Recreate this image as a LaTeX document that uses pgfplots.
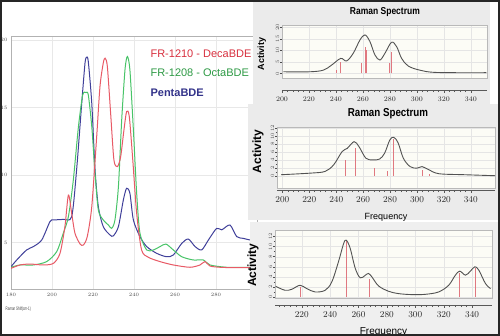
\documentclass[border=0pt]{standalone}
\usepackage{fontspec}
\setmainfont{Liberation Sans}
\newfontfamily\cond[FakeStretch=0.6]{Liberation Sans}
\newfontfamily\condt[FakeStretch=0.85]{Liberation Sans}
\usepackage{pgfplots}
\pgfplotsset{compat=1.18}
\definecolor{deca}{HTML}{E85A66}
\definecolor{octa}{HTML}{48C468}
\definecolor{penta}{HTML}{40409A}
\definecolor{decat}{HTML}{D8303F}
\definecolor{octat}{HTML}{2E9A45}
\definecolor{pentat}{HTML}{33338A}
\definecolor{panelbg}{HTML}{EBEBEB}
\definecolor{plotbg}{HTML}{FCFCF6}
\definecolor{stick}{HTML}{E07880}
\pgfplotsset{
 every axis title shift=0pt,
 panel/.style={scale only axis, anchor=south west, axis background/.style={fill=plotbg},
   axis line style={gray!55, line width=0.5pt}, grid=major, major grid style={gray!20, line width=0.3pt},
   xtick={200,220,...,340}, xticklabels={}, xtick style={draw=none}, ytick pos=left, ytick align=outside,
   major tick length=2pt, minor tick length=1.2pt, tick style={gray!60!black, line width=0.4pt},
   yticklabel style={rotate=90, anchor=south, font=\cond\fontsize{4}{4}\selectfont, text=gray!60!black, inner sep=0.8pt},
   clip=true},
 rule/.style={scale only axis, anchor=south west, height=1pt, ymin=0, ymax=1, axis x line=bottom, axis y line=none,
   axis line style={-, gray!70!black, line width=0.5pt}, xtick={200,220,...,340}, minor x tick num=4,
   xtick align=outside, major tick length=3pt, minor tick length=2.2pt, tick style={gray!70!black, line width=0.4pt},
   xticklabel style={text=gray!30!black}},
 curve/.style={draw=black!68, line width=0.9pt, smooth, tension=0.55, no markers},
 sticks/.style={ycomb, draw=stick, line width=0.6pt, no markers},
}
\begin{document}
\begin{tikzpicture}
\useasboundingbox (0,0) rectangle (500pt,336pt);
\clip (0,0) rectangle (500pt,336pt);
\fill[white] (0,0) rectangle (500pt,336pt);
% ---------------- left chart ----------------
\begin{axis}[at={(11pt,46.7pt)}, anchor=south west, scale only axis, width=246pt, height=253.3pt,
  xmin=180, xmax=300, ymin=1.55, ymax=20.3, xtick={180,200,...,280}, ytick={5,10,15,20},
  grid=major, major grid style={gray!18, line width=0.4pt}, axis line style={gray!60, line width=0.6pt},
  tick style={draw=none}, tick label style={font=\cond\fontsize{4.5}{5}\selectfont, text=gray!60!black},
  xlabel={Raman Shift(cm-1)}, xlabel style={font=\cond\fontsize{5}{5}\selectfont, text=gray!50!black, at={(axis description cs:-0.036,-0.08)}, anchor=west},
  clip=true]
\addplot[draw=penta, line width=1pt, smooth, tension=0.45] coordinates {
(180,3.22) (182.8,3.72) (187.6,4.46) (190.9,4.71) (195.0,5.20) (199.0,6.56) (200.7,6.68) (205.5,6.73) (209.6,6.93)
(212.0,10.39) (214.5,15.32) (216.1,18.29) (216.9,18.73) (217.7,18.41) (219.4,15.32) (221.0,10.39) (222.6,7.67)
(225.0,6.19) (228.3,5.57) (229.9,5.50) (232.4,6.19) (234.8,8.16) (236.4,9.03) (238.0,8.66) (239.7,6.68) (242.9,5.45)
(246.2,4.71) (251.1,4.21) (255.9,3.96) (259.2,4.09) (263.3,4.95) (266.5,5.27) (269.8,4.71) (273.0,4.46) (276.3,5.20)
(280.3,6.06) (282.8,5.95) (286.8,6.31) (290.1,5.45) (293.3,5.32) (296.6,5.20) (300,5.15)};
\addplot[draw=octa, line width=1pt, smooth, tension=0.45] coordinates {
(180,3.18) (184.4,3.35) (190.9,3.35) (197.4,3.60) (202.3,4.34) (205.5,5.70) (208.0,6.93) (210.4,9.64) (212.9,13.60)
(215.0,15.94) (216.6,16.11) (217.7,15.94) (219.4,13.60) (221.0,10.14) (222.6,7.42) (225.0,6.68) (227.5,6.31)
(229.1,6.06) (230.7,6.68) (232.4,9.15) (234.0,14.09) (235.6,17.79) (236.75,18.78) (238.0,17.79) (239.7,13.35)
(241.3,8.66) (242.9,5.70) (246.2,4.46) (249.4,4.46) (252.7,4.71) (255.6,4.90) (259.2,4.46) (263.3,3.96) (268.9,3.72)
(273.8,3.72) (277.1,3.35) (285.2,3.18) (296.6,3.18) (300,3.18)};
\addplot[draw=deca, line width=1pt, smooth, tension=0.45] coordinates {
(180,3.10) (184.4,3.35) (189.3,3.42) (195.8,3.35) (200.7,3.47) (203.9,4.21) (206.3,6.19) (208.0,8.53) (209.6,7.17)
(211.2,5.70) (213.7,4.90) (215.3,4.83) (217.2,5.45) (219.4,7.67) (221.8,12.85) (223.4,16.56) (225.0,18.29)
(225.9,18.66) (227.0,18.04) (228.6,14.58) (230.2,11.13) (231.9,10.63) (233.5,11.37) (235.1,13.35) (236.4,14.71)
(237.7,14.34) (239.4,11.13) (241.3,7.17) (243.7,4.46) (247.0,3.92) (252.7,3.60) (259.2,3.35) (267.3,3.18)
(272.2,3.35) (274.6,3.60) (277.1,3.27) (282.0,3.18) (288.5,3.15) (296.6,3.15) (300,3.15)};
\node[anchor=west, text=decat, font=\fontsize{11}{11}\selectfont] at (axis description cs:0.553,0.929) {FR-1210 - DecaBDE};
\node[anchor=west, text=octat, font=\fontsize{11}{11}\selectfont] at (axis description cs:0.553,0.854) {FR-1208 - OctaBDE};
\node[anchor=west, text=pentat, font=\bfseries\fontsize{11}{11}\selectfont] at (axis description cs:0.553,0.775) {PentaBDE};
\end{axis}
% ---------------- panel backgrounds ----------------
\fill[panelbg] (253pt,232pt) rectangle (490pt,334pt);
\fill[panelbg] (248pt,116pt) rectangle (500pt,232pt);
\fill[panelbg!80!white] (250pt,0pt) rectangle (500pt,114pt);
% ---------------- panel 1 ----------------
\begin{axis}[panel, at={(282pt,258pt)}, width=205pt, height=53pt, xmin=200, xmax=352, ymin=-2, ymax=21,
  ytick={0,5,...,20},
  title={Raman Spectrum}, title style={font=\condt\bfseries\fontsize{10}{10}\selectfont, at={(axis description cs:0.502,1.245)}, anchor=center},
  ylabel={Activity}, ylabel style={font=\bfseries\fontsize{9}{9}\selectfont, at={(axis description cs:-0.098,0.45)}, anchor=center, rotate=0}]
\addplot[sticks] coordinates {(240,1.4) (243.5,5.1) (259,4.6) (261.5,11.6) (262.7,10.1) (279.5,4.3) (281.2,9.4)};
\addplot[curve] coordinates {(201,0.7) (220.7,0.7) (230.6,1.4) (236.8,3.6) (243.5,6.5) (247.9,5.4) (252.8,8.7)
(257.8,14.5) (261.5,16.7) (265.2,13.8) (268.9,8.0) (272.6,5.8) (276.3,8.7) (281.2,13.5) (285,11.6) (288.7,6.5)
(293.6,3.2) (302.2,1.4) (314.6,0.4) (351.6,0.3)};
\end{axis}
\begin{axis}[rule, at={(282pt,246pt)}, width=205pt, xmin=200, xmax=352,
  xticklabel style={font=\cond\fontsize{7}{7}\selectfont}]
\end{axis}
% ---------------- panel 2 ----------------
\begin{axis}[panel, at={(277pt,148pt)}, width=218pt, height=61pt, xmin=196, xmax=358, ymin=-3.1, ymax=12.3,
  ytick={0,2,...,12}, minor y tick num=1,
  title={Raman Spectrum}, title style={font=\condt\bfseries\fontsize{11.5}{11.5}\selectfont, at={(axis description cs:0.509,1.213)}, anchor=center},
  ylabel={Activity}, ylabel style={font=\bfseries\fontsize{12}{12}\selectfont, at={(axis description cs:-0.087,0.6)}, anchor=center, rotate=0}]
\addplot[sticks] coordinates {(247.0,4.0) (254.0,6.9) (268,1.9) (277.8,1.1) (282.3,9.2) (303.8,1.5) (308.9,0.5)};
\addplot[curve] coordinates {(199,0.25) (221.7,0.67) (231.8,1.1) (238.1,2.75) (244.4,6.1) (248.2,6.9) (253.3,8.6)
(257.0,7.3) (262.1,4.4) (267.2,4.0) (272.2,4.2) (276.0,5.7) (279.8,9.0) (282.8,9.7) (286.1,8.2) (289.9,4.4)
(294.9,2.3) (300,1.9) (303.8,2.3) (308.9,1.5) (316.4,0.5) (335.4,0.25) (358,0)};
\end{axis}
\begin{axis}[rule, at={(277pt,146pt)}, width=218pt, xmin=196, xmax=358,
  xticklabel style={font=\cond\fontsize{9}{9}\selectfont},
  xlabel={Frequency}, xlabel style={font=\fontsize{9}{9}\selectfont, at={(axis description cs:0.5,0)}, anchor=center, yshift=-27pt}]
\end{axis}
% ---------------- panel 3 ----------------
\begin{axis}[panel, at={(275pt,38pt)}, width=217pt, height=68pt, xmin=201.2, xmax=354, ymin=-0.2, ymax=13.3,
  ytick={0,2,...,12}, minor y tick num=1,
  ylabel={Activity}, ylabel style={font=\bfseries\fontsize{12}{12}\selectfont, at={(axis description cs:-0.101,0.485)}, anchor=center, rotate=0}]
\addplot[sticks] coordinates {(218.8,2.0) (251.3,11.1) (267.5,3.67) (331.3,4.67) (341.9,5.67)};
\addplot[curve] coordinates {(201.7,2.13) (208.2,1.33) (213,1.53) (218.8,2.33) (223.5,1.67) (229.4,1.0) (236.5,1.33)
(241.2,3.0) (245.9,7.0) (249.4,10.5) (251.3,11.3) (254.1,9.7) (257.7,5.7) (261.2,3.8) (264.7,4.3) (267.0,4.67)
(269.4,4.0) (274.1,2.2) (281.2,1.13) (288.2,0.67) (297.7,0.47) (307.1,0.53) (316.4,1.0) (323.5,2.33) (328.2,4.33)
(331.3,5.13) (335.3,4.33) (338.8,5.13) (341.9,6.0) (344.7,5.33) (349.4,2.67) (353,1.67)};
\end{axis}
\begin{axis}[rule, at={(275pt,31pt)}, width=217pt, xmin=201.2, xmax=354,
  xticklabel style={font=\cond\fontsize{9}{9}\selectfont},
  xlabel={Frequency}, xlabel style={font=\fontsize{10}{10}\selectfont, at={(axis description cs:0.5,0)}, anchor=center, yshift=-27pt}]
\end{axis}
% ---------------- outer frame ----------------
\draw[line width=2pt, black!85] (1pt,1pt) rectangle (499pt,335pt);
\end{tikzpicture}
\end{document}
